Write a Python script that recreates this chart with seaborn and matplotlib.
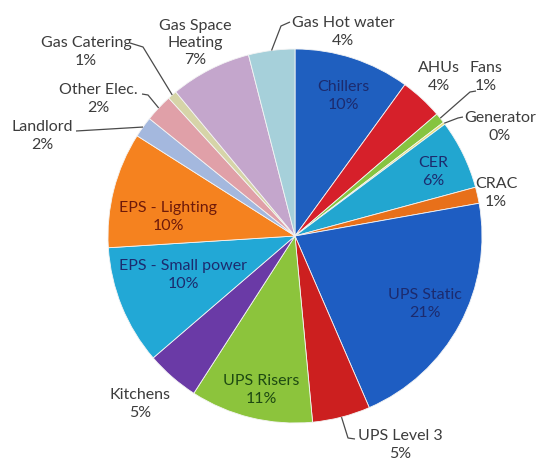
import numpy as np
import matplotlib
matplotlib.use("Agg")
import matplotlib.pyplot as plt
import seaborn as sns

sns.set_theme(style="white")
plt.rcParams['font.family'] = ['Lato', 'DejaVu Sans']

categories = ["Chillers", "AHUs", "Fans", "Generator", "CER", "CRAC",
              "UPS Static", "UPS Level 3", "UPS Risers", "Kitchens",
              "EPS - Small power", "EPS - Lighting", "Landlord",
              "Other Elec.", "Gas Catering", "Gas Space\nHeating", "Gas Hot water"]
values = [10.0, 3.7, 0.9, 0.2, 6.0, 1.4, 21.3, 5.0, 10.6, 4.6,
          10.3, 10.0, 1.8, 2.4, 0.8, 7.0, 4.0]
colors = ["#1F5FBF", "#D6202A", "#86C440", "#E8E070", "#22A6D0", "#E8701A",
          "#1E5DC2", "#CC1F1F", "#8CC43C", "#6A3AA6",
          "#22A8D6", "#F5821F", "#A4B8DE", "#E0A0A8", "#D6D4A8", "#C4A6CC", "#A6D0DA"]

# pixel geometry of the pie
CX, CY, R = 295.0, 236.0, 187.0
W, H = 540, 462

def p2d(px, py):
    return ((px - CX) / R, (CY - py) / R)

fig = plt.figure(figsize=(W / 100, H / 100), dpi=100)
ax = fig.add_axes([0, 0, 1, 1])
ax.pie(values, colors=colors, startangle=90, counterclock=False, radius=1.0,
       wedgeprops=dict(edgecolor="#f4f4f4", linewidth=0.6))
ax.set_xlim(-CX / R, (W - CX) / R)
ax.set_ylim(-(H - CY) / R, CY / R)
ax.set_aspect("equal")
ax.axis("off")

total = sum(values)
cum = np.cumsum([0] + values)
mid_deg = {c: (cum[i] + values[i] / 2) / total * 360 for i, c in enumerate(categories)}

def edge_point(cat, r=1.0):
    a = np.deg2rad(mid_deg[cat])
    return (r * np.sin(a), r * np.cos(a))

NAVY = "#1C2B6E"
GRAY = "#3C3C3C"
# label placement (pixel centre of the label block), colour
label_pos = {
    "Chillers": (343, 96, NAVY),
    "AHUs": (439, 77, GRAY),
    "Fans": (486, 77, GRAY),
    "Generator": (500, 127, GRAY),
    "CER": (433, 172, NAVY),
    "CRAC": (496, 193, GRAY),
    "UPS Static": (425, 304, NAVY),
    "UPS Level 3": (400, 445, GRAY),
    "UPS Risers": (261, 390, "#1E4A12"),
    "Kitchens": (140, 404, GRAY),
    "EPS - Small power": (183, 275, NAVY),
    "EPS - Lighting": (168, 217, "#6E1A0A"),
    "Landlord": (42, 136, GRAY),
    "Other Elec.": (98, 99, GRAY),
    "Gas Catering": (86, 52, GRAY),
    "Gas Space\nHeating": (195, 43, GRAY),
    "Gas Hot water": (343, 32, GRAY),
}

for i, c in enumerate(categories):
    px, py, col = label_pos[c]
    pct = round(values[i] / total * 100)
    x, y = p2d(px, py)
    ax.text(x, y, f"{c}\n{pct}%", ha="center", va="center", fontsize=11.5,
            color=col, linespacing=1.3)

# leader lines: wedge edge -> elbow -> end (pixel coords for elbow/end)
leaders = {
    "Gas Hot water": [(281, 26), (290, 22)],
    "Fans": [(470, 92), (476, 91)],
    "Generator": [(458, 118), (463, 117)],
    "UPS Level 3": [(348, 438), (355, 439)],
    "Landlord": [(76, 131)],
    "Other Elec.": [(148, 95), (142, 94)],
    "Gas Catering": [(143, 47), (130, 43)],
}
for c, pts in leaders.items():
    xs, ys = [edge_point(c)[0]], [edge_point(c)[1]]
    for (px, py) in pts:
        x, y = p2d(px, py)
        xs.append(x); ys.append(y)
    ax.plot(xs, ys, color="#4a4a4a", lw=0.9, solid_capstyle="butt")

fig.savefig("out.png", dpi=100)
